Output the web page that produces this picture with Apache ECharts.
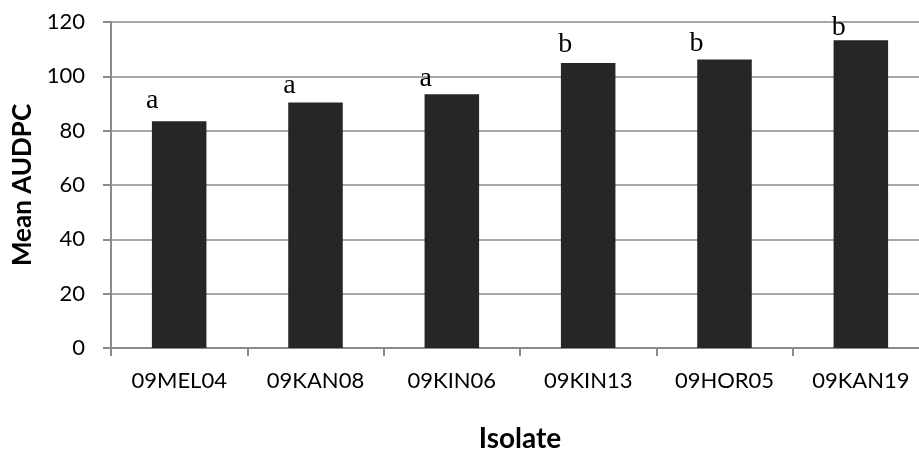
<!DOCTYPE html>
<html>
<head>
<meta charset="utf-8">
<script src="https://cdn.jsdelivr.net/npm/echarts@6/dist/echarts.min.js"></script>
<style>
html,body{margin:0;padding:0;background:#fff;}
#chart{width:919px;height:454px;}
</style>
</head>
<body>
<div id="chart"></div>
<script>
const categories = ['09MEL04','09KAN08','09KIN06','09KIN13','09HOR05','09KAN19'];
const meanAUDPC = [83.5, 90.4, 93.4, 104.9, 106.2, 113.3];
const groupLetters = ['a','a','a','b','b','b'];
const yTicks = [0, 20, 40, 60, 80, 100, 120];

// label placement tweaks (layout only)
const letterDx = [-27, -26, -26, -23, -28, -22];
const letterGap = [10.7, 7, 6, 9, 6.6, 3];

const chart = echarts.init(document.getElementById('chart'));
const sans = 'Lato, "Open Sans", sans-serif';
chart.setOption({
  animation: false,
  backgroundColor: '#fff',
  grid: { left: 111, right: -10, top: 22, bottom: 106, containLabel: false, outerBoundsMode: 'none' },
  xAxis: {
    type: 'category',
    data: categories,
    name: 'Isolate',
    nameLocation: 'middle',
    nameGap: 77,
    nameTextStyle: { fontFamily: sans, fontWeight: 'bold', fontSize: 28, color: '#000' },
    axisLine: { lineStyle: { color: '#8a8a8a', width: 2 } },
    axisTick: { show: true, length: 8, interval: 0, lineStyle: { color: '#8a8a8a', width: 2 } },
    axisLabel: { fontFamily: sans, fontSize: 22, color: '#000', margin: 22, interval: 0 }
  },
  yAxis: {
    type: 'value',
    min: yTicks[0],
    max: yTicks[yTicks.length - 1],
    interval: yTicks[1] - yTicks[0],
    name: 'Mean AUDPC',
    nameLocation: 'middle',
    nameGap: 74,
    nameTextStyle: { fontFamily: sans, fontWeight: 'bold', fontSize: 26, color: '#000' },
    axisLine: { show: true, lineStyle: { color: '#8a8a8a', width: 2 } },
    axisTick: { show: true, length: 8, lineStyle: { color: '#8a8a8a', width: 2 } },
    axisLabel: { fontFamily: sans, fontSize: 22, color: '#000', margin: 26 },
    splitLine: { show: true, lineStyle: { color: '#8a8a8a', width: 1.5 } }
  },
  series: [{
    type: 'bar',
    barWidth: '40%',
    itemStyle: { color: '#262626' },
    data: meanAUDPC.map((v, i) => ({
      value: v,
      label: {
        show: true,
        position: 'top',
        distance: 0,
        offset: [letterDx[i], -(letterGap[i] - 4.5)],
        formatter: groupLetters[i],
        fontFamily: '"Liberation Serif", "Times New Roman", serif',
        fontSize: 28,
        color: '#000'
      }
    }))
  }]
});
</script>
</body>
</html>
